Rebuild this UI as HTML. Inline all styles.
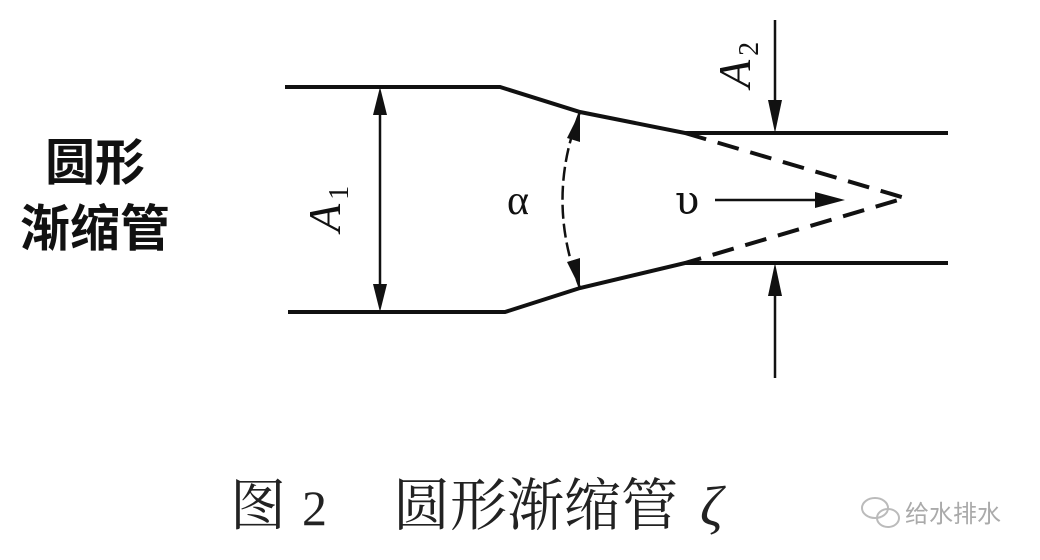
<!DOCTYPE html>
<html><head><meta charset="utf-8"><style>
body{margin:0;width:1040px;height:560px;background:#fff;overflow:hidden;position:relative}
.t{position:absolute;white-space:nowrap}
</style></head><body>
<div class="t" style="left:12px;top:126px;font:bold 50px 'Noto Sans CJK SC',sans-serif;line-height:66px;color:#111;text-align:center;width:166px">圆形<br>渐缩管</div>
<svg width="1040" height="560" style="position:absolute;left:0;top:0">
<g stroke="#111" stroke-width="4" fill="none">
<path d="M285,87 L500,87 L580,112 L685,133 L948,133"/>
<path d="M288,312 L505,312 L580,288 L685,263 L948,263"/>
</g>
<g stroke="#111" stroke-width="4" fill="none" stroke-dasharray="22,12">
<path d="M685,133 L905,198 L685,263"/>
</g>
<g stroke="#111" stroke-width="2.5" fill="none">
<line x1="380" y1="100" x2="380" y2="300"/>
<path d="M580,112 Q545,200 580,288" stroke-dasharray="14,5"/>
<line x1="715" y1="200" x2="820" y2="200"/>
<line x1="775" y1="20" x2="775" y2="118"/>
<line x1="775" y1="378" x2="775" y2="278"/>
</g>
<g fill="#111">
<polygon points="380,87 373,115 387,115"/>
<polygon points="380,312 373,284 387,284"/>
<polygon points="580,112 567,138 580,142"/>
<polygon points="580,288 567,262 580,258"/>
<polygon points="845,200 815,192 815,208"/>
<polygon points="775,133 768,100 782,100"/>
<polygon points="775,263 768,296 782,296"/>
</g>
<text x="0" y="0" transform="translate(340,232) rotate(-90)" font-family="Liberation Serif,serif" font-style="italic" font-size="46" fill="#111">A<tspan font-size="28" font-style="normal" dy="8" dx="4">1</tspan></text>
<text x="0" y="0" transform="translate(750,88) rotate(-90)" font-family="Liberation Serif,serif" font-style="italic" font-size="46" fill="#111">A<tspan font-size="28" font-style="normal" dy="8" dx="4">2</tspan></text>
<text x="507" y="214" font-family="Liberation Serif,serif" font-size="42" fill="#111">α</text>
<text x="675" y="214" font-family="DejaVu Serif,serif" font-size="40" fill="#111">υ</text>
<text x="230" y="525" font-family="'Noto Serif CJK SC',serif" font-size="56" fill="#222">图</text>
<text x="302" y="525" font-family="Liberation Serif,serif" font-size="50" fill="#222">2</text>
<text x="393" y="525" font-family="'Noto Serif CJK SC',serif" font-size="57" fill="#222">圆形渐缩管</text>
<text x="700" y="525" font-family="Liberation Serif,serif" font-style="italic" font-size="56" fill="#222">ζ</text>
<text x="905" y="522" font-family="'Noto Sans CJK SC',sans-serif" font-size="24" fill="#aaa">给水排水</text>
<g stroke="#bbb" stroke-width="2" fill="none"><ellipse cx="875" cy="508" rx="13" ry="10"/><ellipse cx="888" cy="518" rx="11" ry="9"/></g>
</svg>
</body></html>
